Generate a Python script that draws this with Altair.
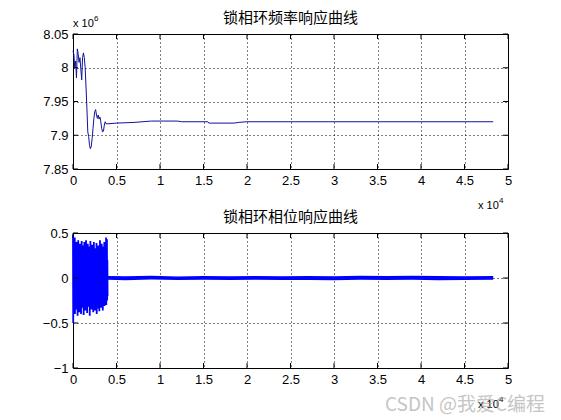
import altair as alt
import pandas as pd

# ---------------- data (x in units of 1e4, frequency in units of 1e6) ----------------
freq_x = [0.0, 0.01, 0.02, 0.03, 0.04, 0.05, 0.06, 0.07, 0.08, 0.09, 0.10, 0.11, 0.12,
          0.13, 0.14, 0.15, 0.16, 0.17, 0.18, 0.19, 0.20, 0.21, 0.22, 0.23, 0.24, 0.25,
          0.26, 0.27, 0.28, 0.29, 0.30, 0.31, 0.32, 0.33, 0.34, 0.35, 0.36, 0.37, 0.38,
          0.40, 0.50, 0.70, 0.90, 1.00, 1.20, 1.25, 1.55, 1.56, 1.85, 1.90, 2.00, 4.83]
freq_y = [8.025, 8.020, 8.000, 8.010, 7.985, 8.028, 8.020, 8.008, 8.015, 7.998, 7.982,
          8.015, 8.022, 8.015, 8.000, 7.970, 7.940, 7.905, 7.898, 7.885, 7.880, 7.884,
          7.895, 7.910, 7.925, 7.935, 7.938, 7.930, 7.925, 7.930, 7.924, 7.927, 7.920,
          7.910, 7.905, 7.906, 7.915, 7.920, 7.917, 7.917, 7.918, 7.919, 7.921, 7.921,
          7.921, 7.920, 7.920, 7.918, 7.918, 7.919, 7.920, 7.920]

phase_pos = [0.48, 0.35, 0.45, 0.30, 0.40, 0.25, 0.42, 0.33, 0.38, 0.28, 0.41, 0.22,
             0.36, 0.40, 0.30, 0.42, 0.26, 0.38, 0.35, 0.20, 0.41, 0.31, 0.37, 0.27,
             0.40, 0.33, 0.24, 0.39, 0.30, 0.36, 0.28, 0.42, 0.32, 0.38, 0.25, 0.35,
             0.40, 0.30, 0.45, 0.43]
phase_neg = [-0.50, -0.28, -0.40, -0.35, -0.25, -0.42, -0.30, -0.38, -0.22, -0.40,
             -0.33, -0.27, -0.41, -0.30, -0.36, -0.24, -0.39, -0.32, -0.28, -0.42,
             -0.26, -0.35, -0.31, -0.38, -0.22, -0.36, -0.30, -0.40, -0.27, -0.34,
             -0.37, -0.25, -0.33, -0.30, -0.36, -0.28, -0.31, -0.26, -0.30, -0.25]
phase_mid_pos = [0.22, 0.18, 0.25, 0.15, 0.20, 0.24, 0.17, 0.21, 0.19, 0.23, 0.16, 0.22,
                 0.20, 0.18, 0.24, 0.15, 0.21, 0.19, 0.23, 0.17, 0.20, 0.22, 0.16, 0.24,
                 0.18, 0.21, 0.19, 0.23, 0.15, 0.22, 0.20, 0.17, 0.24, 0.18, 0.21, 0.19,
                 0.23, 0.16, 0.22, 0.20]
phase_mid_neg = [-0.20, -0.24, -0.16, -0.22, -0.18, -0.21, -0.25, -0.17, -0.23, -0.19,
                 -0.22, -0.15, -0.24, -0.20, -0.18, -0.23, -0.17, -0.21, -0.19, -0.24,
                 -0.16, -0.22, -0.20, -0.18, -0.25, -0.17, -0.21, -0.19, -0.23, -0.16,
                 -0.22, -0.20, -0.18, -0.24, -0.17, -0.21, -0.19, -0.23, -0.18, -0.20]
phase_step = 0.0025

band_x = [0.40, 0.60, 0.90, 1.20, 1.50, 1.80, 2.10, 2.40, 2.70, 3.00, 3.30, 3.60,
          3.90, 4.20, 4.50, 4.83]
band_hi = [0.022, 0.020, 0.024, 0.018, 0.022, 0.020, 0.023, 0.019, 0.022, 0.020,
           0.024, 0.021, 0.025, 0.022, 0.020, 0.022]
band_lo = [-0.020, -0.024, -0.018, -0.022, -0.020, -0.023, -0.019, -0.022, -0.021,
           -0.024, -0.020, -0.022, -0.020, -0.024, -0.021, -0.020]

x_ticks = [0, 0.5, 1, 1.5, 2, 2.5, 3, 3.5, 4, 4.5, 5]
freq_ticks = [7.85, 7.9, 7.95, 8.0, 8.05]
phase_ticks = [-1, -0.5, 0, 0.5]

title_top = "锁相环频率响应曲线"
title_bottom = "锁相环相位响应曲线"
watermark_text = "CSDN @我爱C编程"

# ---------------- tables ----------------
freq_df = pd.DataFrame({"x": freq_x, "y": freq_y})
dense_vals = []
for p, n, mp, mn in zip(phase_pos, phase_neg, phase_mid_pos, phase_mid_neg):
    dense_vals += [p, n, mp, mn]
dense_df = pd.DataFrame({"x": [i * phase_step for i in range(len(dense_vals))],
                         "y": dense_vals})
band_df = pd.DataFrame({"x": band_x, "lo": band_lo, "hi": band_hi})
xt_df = pd.DataFrame({"t": x_ticks})
one = xt_df.head(1)

W, H = 435, 135
FONT = "Liberation Sans"
CJK = "Noto Sans CJK SC"

xscale = alt.Scale(domain=[0, 5], nice=False, zero=False)


def axis(vals):
    return alt.Axis(values=vals, format="~g", title=None, grid=True, gridDash=[1, 3],
                    gridColor="black", gridOpacity=1, domain=False, ticks=False,
                    labelFont=FONT, labelFontSize=13, labelColor="black", labelPadding=5,
                    labelFlush=False, labelOverlap=False, labelBound=False)


def tick_layers(yvals, yscale):
    yt_df = pd.DataFrame({"t": yvals})
    tx = alt.Chart(xt_df)
    ty = alt.Chart(yt_df)
    X = alt.X("t:Q", scale=xscale, axis=axis(x_ticks))
    Y = alt.Y("t:Q", scale=yscale, axis=axis(yvals))
    return [
        tx.mark_rule(color="black").encode(x=X, y=alt.value(0), y2=alt.value(5)),
        tx.mark_rule(color="black").encode(x=X, y=alt.value(H), y2=alt.value(H - 5)),
        ty.mark_rule(color="black").encode(y=Y, x=alt.value(0), x2=alt.value(5)),
        ty.mark_rule(color="black").encode(y=Y, x=alt.value(W), x2=alt.value(W - 5)),
    ]


def exp_text(base, sup, x, y):
    return [
        alt.Chart(one).mark_text(text=base, font=FONT, fontSize=11, align="left",
                                 baseline="alphabetic", color="black")
        .encode(x=alt.value(x), y=alt.value(y)),
        alt.Chart(one).mark_text(text=sup, font=FONT, fontSize=8, align="left",
                                 baseline="alphabetic", color="black")
        .encode(x=alt.value(x + 21), y=alt.value(y - 6)),
    ]


def title_mark(t):
    return alt.Chart(one).mark_text(text=t, font=CJK, fontSize=15, align="center",
                                    baseline="alphabetic", color="black") \
        .encode(x=alt.value(W / 2), y=alt.value(-11))


# ---------------- top panel ----------------
fscale = alt.Scale(domain=[7.85, 8.05], nice=False, zero=False)
freq_line = alt.Chart(freq_df).mark_line(color="#12129a", strokeWidth=1).encode(
    x=alt.X("x:Q", scale=xscale, axis=axis(x_ticks)),
    y=alt.Y("y:Q", scale=fscale, axis=axis(freq_ticks)),
)
top = alt.layer(
    freq_line, *tick_layers(freq_ticks, fscale),
    *exp_text("x 10", "6", 0, -7),
    *exp_text("x 10", "4", 405, 175),
    title_mark(title_top),
).properties(width=W, height=H)

# ---------------- bottom panel ----------------
pscale = alt.Scale(domain=[-1, 0.5], nice=False, zero=False)
band = alt.Chart(band_df).mark_area(color="#0000ff", opacity=1).encode(
    x=alt.X("x:Q", scale=xscale, axis=axis(x_ticks)),
    y=alt.Y("lo:Q", scale=pscale, axis=axis(phase_ticks)),
    y2="hi:Q",
)
dense = alt.Chart(dense_df).mark_line(color="#0000ff", strokeWidth=1.8).encode(
    x=alt.X("x:Q", scale=xscale, axis=axis(x_ticks)),
    y=alt.Y("y:Q", scale=pscale, axis=axis(phase_ticks)),
)
watermark = alt.Chart(one).mark_text(
    text=watermark_text, font=CJK, fontSize=19, align="left", baseline="alphabetic",
    color="#a0a0a0", opacity=0.6).encode(x=alt.value(312), y=alt.value(178))

bottom = alt.layer(
    band, dense, *tick_layers(phase_ticks, pscale),
    *exp_text("x 10", "4", 405, 175),
    watermark,
    title_mark(title_bottom),
).properties(width=W, height=H)

chart = alt.vconcat(top, bottom, spacing=64, bounds="flush").properties(
    padding={"left": 33, "top": 2, "right": 5, "bottom": 0},
    background="white",
).configure_view(stroke="black", strokeWidth=1)

chart.save("out.html", embed_options={"renderer": "svg", "actions": False})
